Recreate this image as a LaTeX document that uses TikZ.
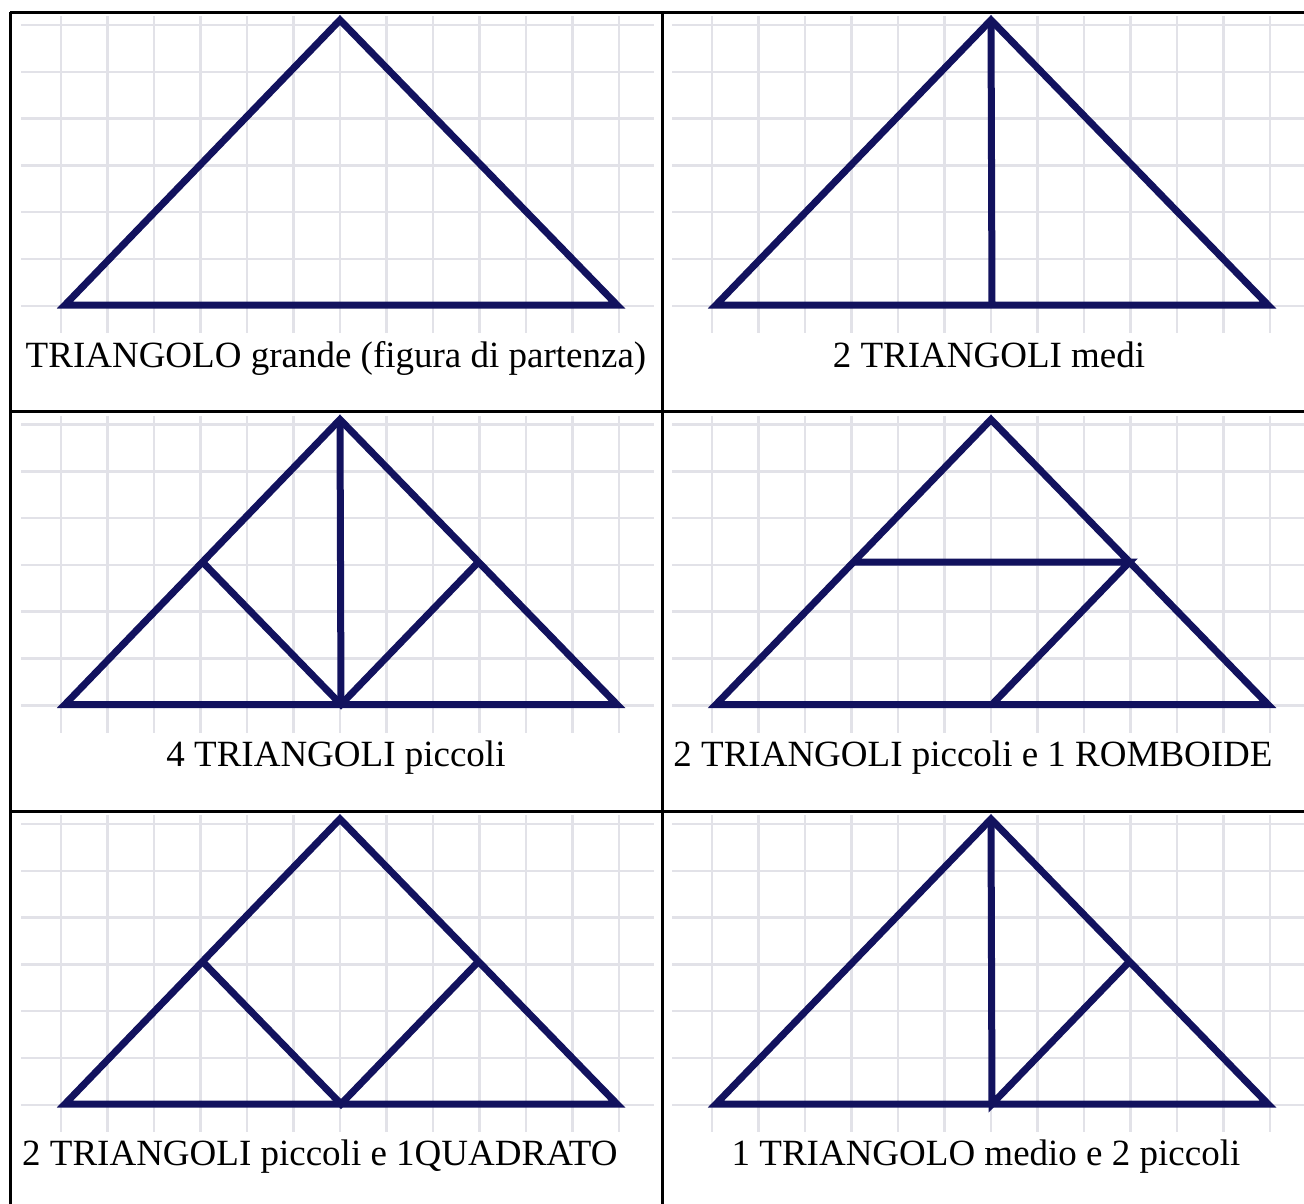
\documentclass[tikz,border=0pt]{standalone}
\usepackage{fontspec}
\setmainfont{Liberation Serif}
\usepackage{xcolor}
\usepackage{tikz}

\definecolor{ink}{RGB}{18,18,94}
\definecolor{gridgray}{RGB}{226,226,232}

\begin{document}
\begin{tikzpicture}[
  x=1pt, y=-1pt,
  font=\fontsize{37}{40}\selectfont,
  rule/.style={line width=3pt, black},
  paper/.style={line width=2.5pt, gridgray},
  cut/.style={line width=7pt, ink},
  caption/.style={anchor=base, inner sep=0pt}
]
\useasboundingbox (0,0) rectangle (1304,1203);
\clip (0,0) rectangle (1304,1203);
% graph paper and the big triangle in every cell
\foreach \col in {0,1}{
  \foreach \row in {0,1,2}{
    \begin{scope}[shift={(651*\col,399.5*\row)}]
      \begin{scope}
        \clip (21,16) rectangle (654,333);
        \foreach \gx in {0,...,12}{\draw[paper] (61+46.5*\gx,16) -- ++(0,317);}
        \foreach \gy in {0,...,6}{\draw[paper] (21,25+46.8*\gy) -- ++(633,0);}
      \end{scope}
      \coordinate (L\col\row) at (65,305);
      \coordinate (A\col\row) at (340,20);
      \coordinate (R\col\row) at (617,305);
      \coordinate (M\col\row) at (341,305);
      \coordinate (P\col\row) at (202.5,162.5);
      \coordinate (Q\col\row) at (478.5,162.5);
      \draw[cut] (L\col\row) -- (A\col\row) -- (R\col\row) -- cycle;
    \end{scope}
  }
}
% the cuts
\draw[cut] (A10) -- (M10);
\draw[cut] (A01) -- (M01);
\draw[cut] (P01) -- (M01) -- (Q01);
\draw[cut] (P11) -- (Q11) -- (M11);
\draw[cut] (P02) -- (M02) -- (Q02);
\draw[cut] (A12) -- (M12) -- (Q12);
% table rules
\draw[rule] (10,12) -- (1320,12);
\draw[rule] (10,411) -- (1320,411);
\draw[rule] (10,811) -- (1320,811);
\draw[rule] (10,12) -- (10,1215);
\draw[rule] (662,12) -- (662,1215);
% captions
\node[caption] (cap00) at (336,367) {TRIANGOLO grande (figura di partenza)};
\node[caption] (cap10) at (989,367) {2 TRIANGOLI medi};
\node[caption] (cap01) at (336,766) {4 TRIANGOLI piccoli};
\node[caption] (cap11) at (973,766) {2 TRIANGOLI piccoli e 1 ROMBOIDE};
\node[caption, anchor=base west] (cap02) at (22,1165) {2 TRIANGOLI piccoli e 1QUADRATO};
\node[caption] (cap12) at (986,1165) {1 TRIANGOLO medio e 2 piccoli};
\end{tikzpicture}
\end{document}
